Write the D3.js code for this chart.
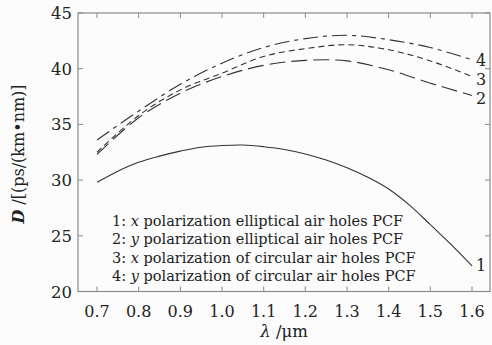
<!DOCTYPE html>
<html>
<head>
<meta charset="utf-8">
<script src="https://cdn.jsdelivr.net/npm/d3@7"></script>
<style>
  html, body { margin: 0; padding: 0; background: #fcfcfc; }
  svg { display: block; }
  text { font-family: 'DejaVu Serif', 'Liberation Serif', serif; fill: #222; }
</style>
</head>
<body>
<div id="chart"></div>
<script>
// wavelength (um)
const lambda = [0.7, 0.8, 0.9, 1.0, 1.1, 1.2, 1.3, 1.4, 1.5, 1.6];
const lambdaFine = [0.7, 0.75, 0.8, 0.85, 0.9, 0.95, 1.0, 1.05, 1.1, 1.15, 1.2, 1.25, 1.3, 1.35, 1.4, 1.45, 1.5, 1.55, 1.6];

// dispersion D, ps/(km nm)
const curve1 = [29.8, 30.8, 31.6, 32.15, 32.6, 32.95, 33.1, 33.15, 33.0, 32.75, 32.35, 31.8, 31.1, 30.25, 29.2, 27.75, 26.0, 24.2, 22.3];
const curve2 = [32.3, 35.6, 37.8, 39.3, 40.3, 40.75, 40.7, 39.9, 38.7, 37.6];
const curve3 = [32.5, 35.8, 38.1, 39.6, 41.1, 41.8, 42.15, 41.7, 40.7, 39.3];
const curve4 = [33.6, 36.2, 38.6, 40.5, 41.9, 42.7, 43.0, 42.6, 41.9, 40.8];

const xTicks = [0.7, 0.8, 0.9, 1.0, 1.1, 1.2, 1.3, 1.4, 1.5, 1.6];
const yTicks = [20, 25, 30, 35, 40, 45];

const legendLines = [
  ['1: ', 'x', ' polarization elliptical air holes PCF'],
  ['2: ', 'y', ' polarization elliptical air holes PCF'],
  ['3: ', 'x', ' polarization of circular air holes PCF'],
  ['4: ', 'y', ' polarization of circular air holes PCF'],
];

const width = 492, height = 345;
const frame = { left: 78, right: 490, top: 13, bottom: 291.5 };

const svg = d3.select('#chart').append('svg')
  .attr('width', width).attr('height', height);

const x = d3.scaleLinear().domain([0.7, 1.6]).range([97, 472]);
const y = d3.scaleLinear().domain([20, 45]).range([frame.bottom, frame.top]);

const axisColor = '#8a8a8a';
const tickLen = 5;

// ticks (inward on all four sides)
const ticks = svg.append('g').attr('stroke', axisColor).attr('stroke-width', 1);
xTicks.forEach(t => {
  ticks.append('line').attr('x1', x(t)).attr('x2', x(t))
    .attr('y1', frame.bottom).attr('y2', frame.bottom - tickLen);
  ticks.append('line').attr('x1', x(t)).attr('x2', x(t))
    .attr('y1', frame.top).attr('y2', frame.top + tickLen);
});
yTicks.forEach(t => {
  ticks.append('line').attr('x1', frame.left).attr('x2', frame.left + tickLen)
    .attr('y1', y(t)).attr('y2', y(t));
  ticks.append('line').attr('x1', frame.right).attr('x2', frame.right - tickLen)
    .attr('y1', y(t)).attr('y2', y(t));
});

// frame
svg.append('rect')
  .attr('x', frame.left).attr('y', frame.top)
  .attr('width', frame.right - frame.left).attr('height', frame.bottom - frame.top)
  .attr('fill', 'none').attr('stroke', axisColor).attr('stroke-width', 1.2);

// tick labels
svg.append('g').selectAll('text').data(xTicks).join('text')
  .attr('x', d => x(d)).attr('y', 317)
  .attr('text-anchor', 'middle').attr('font-size', 16)
  .text(d => d.toFixed(1));

svg.append('g').selectAll('text').data(yTicks).join('text')
  .attr('x', 72).attr('y', d => y(d) + 6)
  .attr('text-anchor', 'end').attr('font-size', 16.5)
  .text(d => d);

// axis titles
svg.append('text')
  .attr('x', 284).attr('y', 337)
  .attr('text-anchor', 'middle').attr('font-size', 16.5)
  .html('<tspan font-style="italic">λ</tspan> /μm');

svg.append('text')
  .attr('transform', 'translate(24,154) rotate(-90)')
  .attr('text-anchor', 'middle').attr('font-size', 16)
  .html('<tspan font-style="italic" font-weight="bold">D</tspan> /[(ps/(km•nm)]');

// curves
const line = d3.line()
  .x(d => x(d[0])).y(d => y(d[1]))
  .curve(d3.curveCatmullRom.alpha(0.5));

const series = [
  { xs: lambdaFine, ys: curve1, dash: null, label: '1', dy: 5 },
  { xs: lambda, ys: curve2, dash: '16,6', label: '2', dy: 9 },
  { xs: lambda, ys: curve3, dash: '6,4', label: '3', dy: 9 },
  { xs: lambda, ys: curve4, dash: '15,5,4,5', label: '4', dy: 6.5 },
];

series.forEach(s => {
  svg.append('path')
    .datum(d3.zip(s.xs, s.ys))
    .attr('d', line)
    .attr('fill', 'none')
    .attr('stroke', '#333')
    .attr('stroke-width', 1.1)
    .attr('stroke-dasharray', s.dash);
});

// curve labels at the right end
series.forEach(s => {
  const last = s.ys[s.ys.length - 1];
  svg.append('text')
    .attr('x', x(1.6) + 4)
    .attr('y', y(last) + s.dy)
    .attr('font-size', 16)
    .text(s.label);
});

// legend text
const legend = svg.append('g');
legendLines.forEach((parts, i) => {
  const t = legend.append('text')
    .attr('x', 112).attr('y', 225.5 + i * 18.5)
    .attr('font-size', 14.5);
  t.append('tspan').text(parts[0]);
  t.append('tspan').attr('font-style', 'italic').text(parts[1]);
  t.append('tspan').text(parts[2]);
});
</script>
</body>
</html>
